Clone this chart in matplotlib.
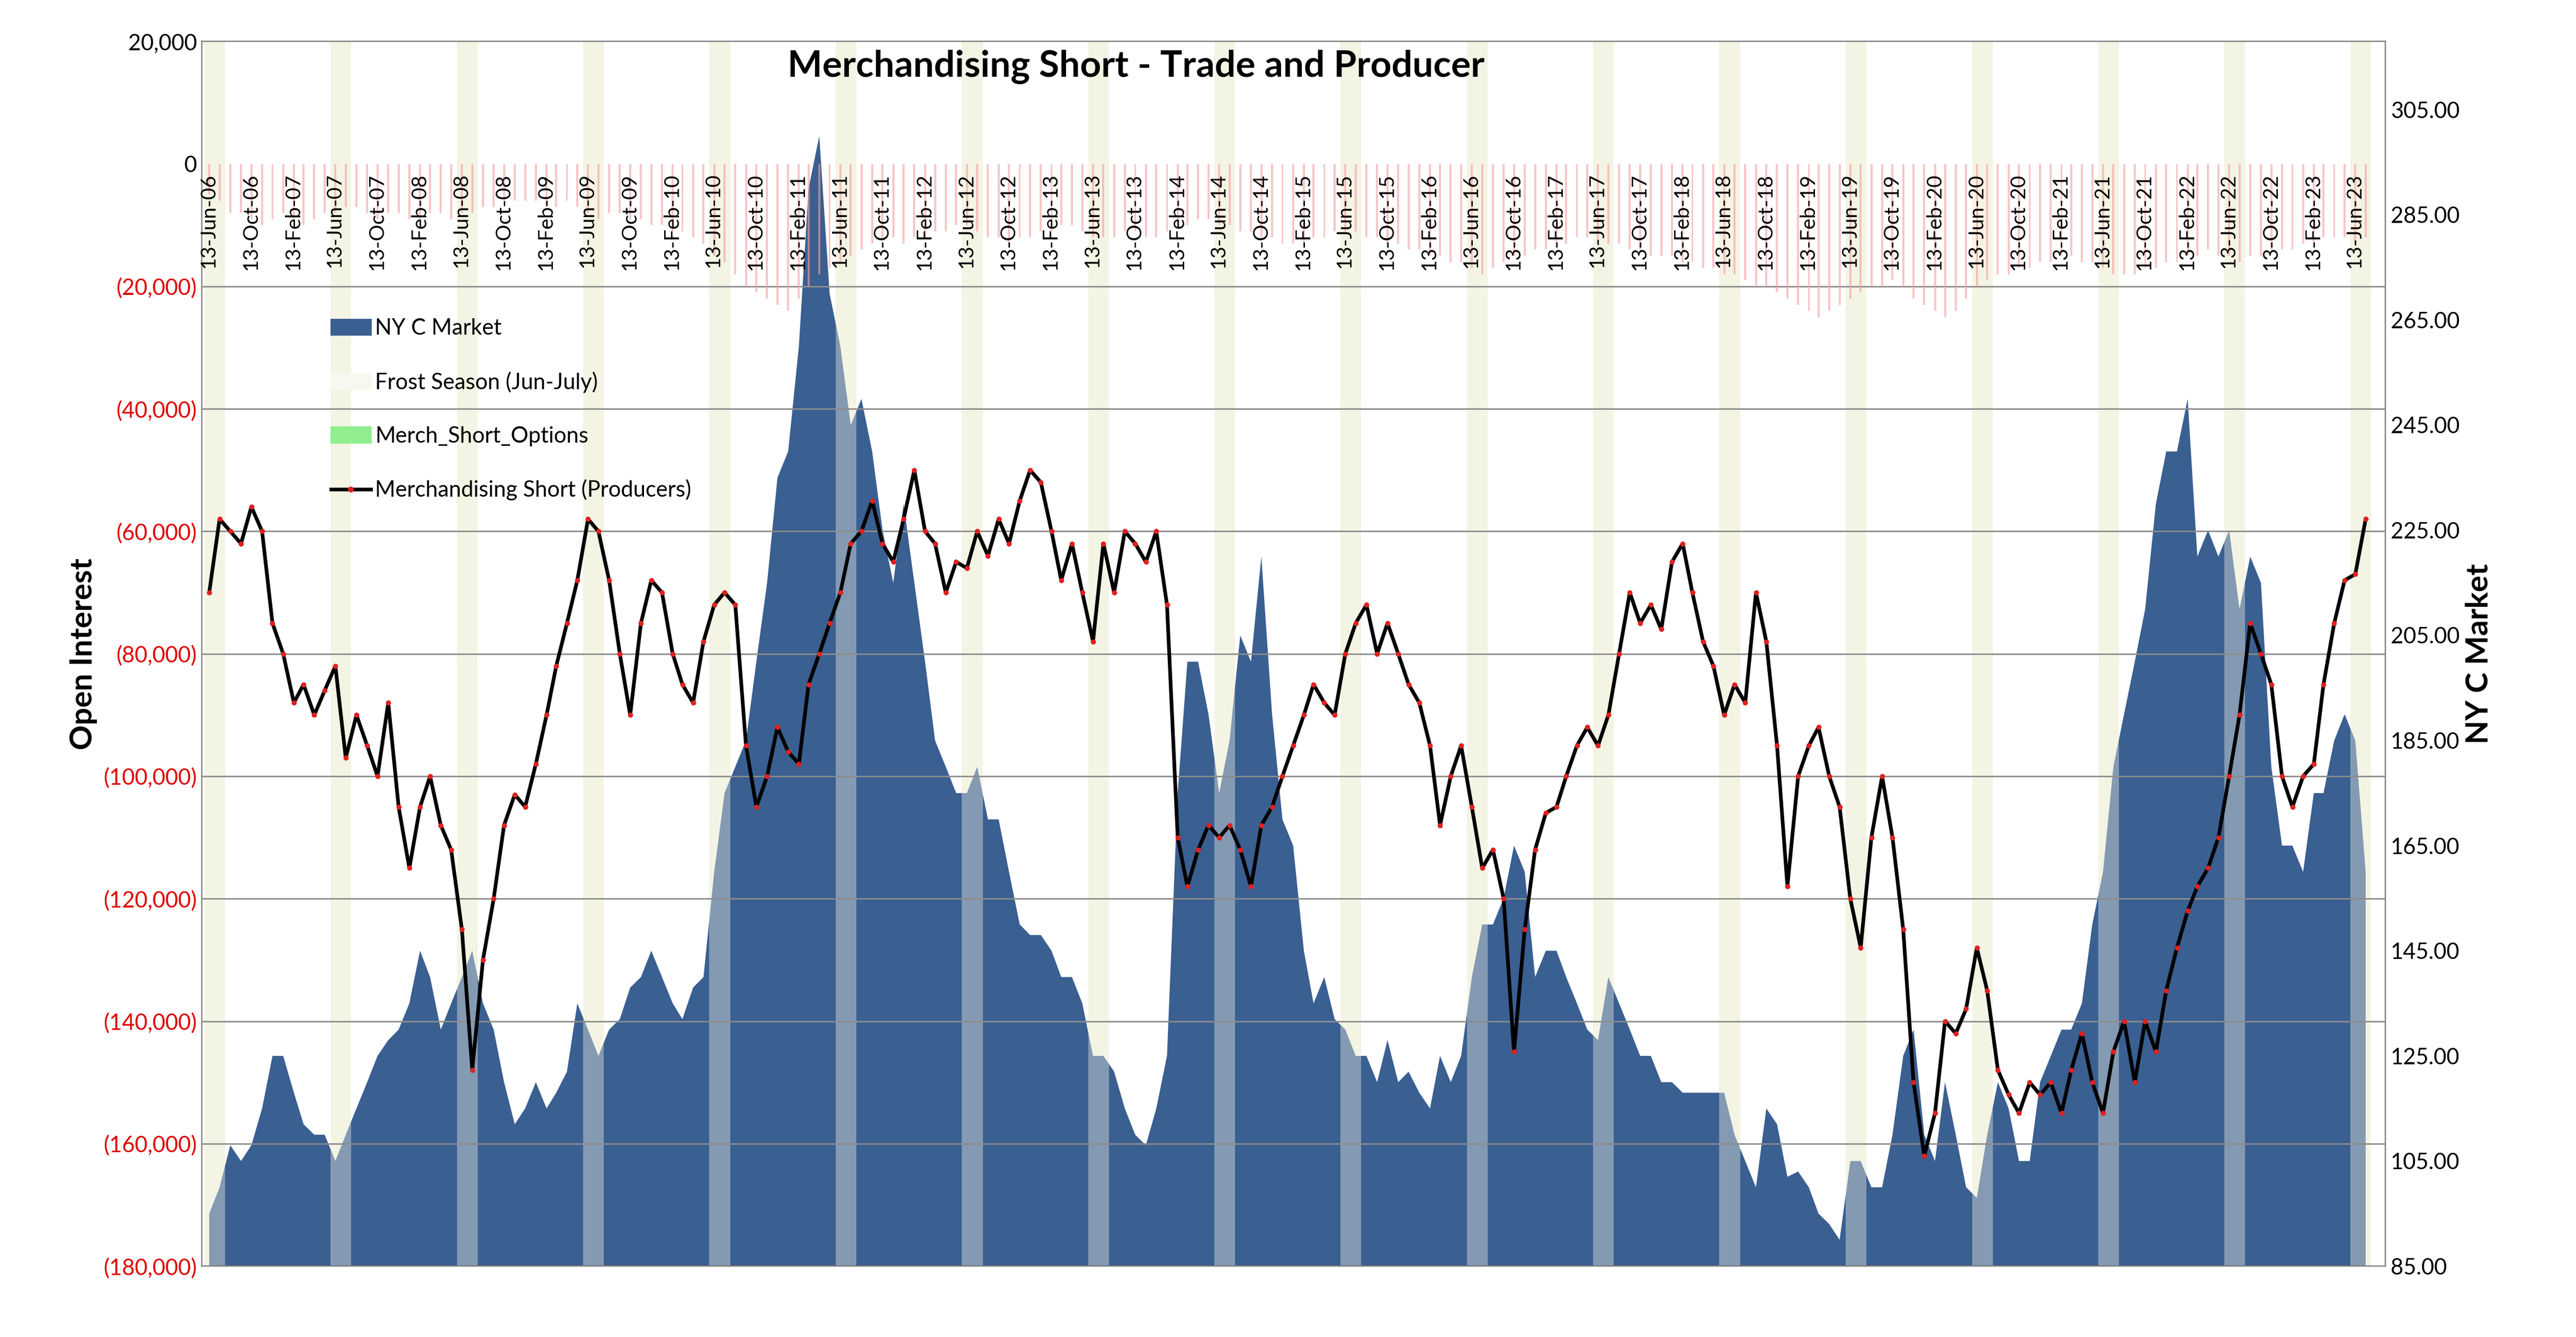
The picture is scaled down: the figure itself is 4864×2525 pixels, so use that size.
import numpy as np
import pandas as pd
import matplotlib
matplotlib.use('Agg')
import matplotlib.pyplot as plt
from matplotlib.patches import Patch
from matplotlib.lines import Line2D
from matplotlib.ticker import FixedLocator, FuncFormatter

plt.rcParams['font.family'] = ['Lato', 'DejaVu Sans']

merch_short = [  # thousands of contracts, monthly Jun-2006 .. Jul-2023
    -70, -58, -60, -62, -56, -60, -75,
    -80, -88, -85, -90, -86, -82, -97, -90, -95, -100, -88, -105,
    -115, -105, -100, -108, -112, -125, -148, -130, -120, -108, -103, -105,
    -98, -90, -82, -75, -68, -58, -60, -68, -80, -90, -75, -68,
    -70, -80, -85, -88, -78, -72, -70, -72, -95, -105, -100, -92,
    -96, -98, -85, -80, -75, -70, -62, -60, -55, -62, -65, -58,
    -50, -60, -62, -70, -65, -66, -60, -64, -58, -62, -55, -50,
    -52, -60, -68, -62, -70, -78, -62, -70, -60, -62, -65, -60,
    -72, -110, -118, -112, -108, -110, -108, -112, -118, -108, -105, -100,
    -95, -90, -85, -88, -90, -80, -75, -72, -80, -75, -80, -85,
    -88, -95, -108, -100, -95, -105, -115, -112, -120, -145, -125, -112,
    -106, -105, -100, -95, -92, -95, -90, -80, -70, -75, -72, -76,
    -65, -62, -70, -78, -82, -90, -85, -88, -70, -78, -95, -118,
    -100, -95, -92, -100, -105, -120, -128, -110, -100, -110, -125, -150,
    -162, -155, -140, -142, -138, -128, -135, -148, -152, -155, -150, -152,
    -150, -155, -148, -142, -150, -155, -145, -140, -150, -140, -145, -135,
    -128, -122, -118, -115, -110, -100, -90, -75, -80, -85, -100, -105,
    -100, -98, -85, -75, -68, -67, -58,
]

nyc_price = [  # cents/lb
    95, 100, 108, 105, 108, 115, 125,
    125, 118, 112, 110, 110, 105, 110, 115, 120, 125, 128, 130,
    135, 145, 140, 130, 135, 140, 145, 135, 130, 120, 112, 115,
    120, 115, 118, 122, 135, 130, 125, 130, 132, 138, 140, 145,
    140, 135, 132, 138, 140, 160, 175, 180, 185, 200, 215, 235,
    240, 260, 290, 300, 270, 260, 245, 250, 240, 225, 215, 230,
    215, 200, 185, 180, 175, 175, 180, 170, 170, 160, 150, 148,
    148, 145, 140, 140, 135, 125, 125, 122, 115, 110, 108, 115,
    125, 175, 200, 200, 190, 175, 185, 205, 200, 220, 190, 170,
    165, 145, 135, 140, 132, 130, 125, 125, 120, 128, 120, 122,
    118, 115, 125, 120, 125, 140, 150, 150, 155, 165, 160, 140,
    145, 145, 140, 135, 130, 128, 140, 135, 130, 125, 125, 120,
    120, 118, 118, 118, 118, 118, 110, 105, 100, 115, 112, 102,
    103, 100, 95, 93, 90, 105, 105, 100, 100, 110, 125, 130,
    110, 105, 120, 110, 100, 98, 110, 120, 115, 105, 105, 120,
    125, 130, 130, 135, 150, 160, 180, 190, 200, 210, 230, 240,
    240, 250, 220, 225, 220, 225, 210, 220, 215, 180, 165, 165,
    160, 175, 175, 185, 190, 185, 160,
]

merch_options = [  # thousands, hanging from zero
    -5, -6, -8, -8, -9, -10, -9,
    -8, -9, -10, -9, -8, -8, -7, -7, -8, -9, -8, -8,
    -9, -9, -8, -8, -9, -8, -8, -7, -7, -6, -6, -6,
    -6, -7, -7, -6, -7, -8, -9, -8, -8, -9, -9, -10,
    -10, -11, -11, -12, -13, -15, -16, -18, -20, -21, -22, -23,
    -24, -22, -20, -18, -17, -16, -15, -14, -13, -12, -12, -13,
    -12, -12, -11, -11, -10, -10, -11, -12, -12, -13, -12, -12,
    -11, -11, -10, -10, -11, -12, -12, -12, -11, -11, -12, -12,
    -11, -10, -10, -9, -9, -10, -10, -11, -11, -12, -12, -13,
    -13, -13, -12, -12, -11, -11, -11, -12, -12, -13, -13, -14,
    -14, -15, -15, -16, -16, -17, -18, -17, -16, -15, -15, -14,
    -14, -13, -13, -12, -12, -13, -13, -13, -14, -14, -15, -15,
    -15, -16, -16, -17, -17, -18, -18, -19, -20, -20, -21, -22,
    -23, -24, -25, -24, -23, -22, -21, -20, -20, -19, -20, -22,
    -23, -24, -25, -24, -22, -20, -19, -18, -18, -17, -17, -16,
    -16, -15, -15, -16, -16, -17, -18, -18, -18, -17, -17, -16,
    -16, -15, -15, -14, -15, -15, -16, -15, -15, -14, -14, -14,
    -13, -13, -12, -12, -12, -13, -12,
]

months = pd.date_range('2006-06-01', periods=len(merch_short), freq='MS') + pd.Timedelta(days=14)
tick_dates = pd.date_range('2006-06-01', '2023-06-01', freq='4MS') + pd.Timedelta(days=12)
frost_years = range(2006, 2024)

fig = plt.figure(figsize=(24.32, 12.625), dpi=200)
ax = fig.add_axes([0.0784, 0.053, 0.8476, 0.916])
ax2 = ax.twinx()
ax.set_zorder(ax2.get_zorder() + 1)
ax.patch.set_visible(False)

# right axis: price area, frost bands
for y in frost_years:
    ax2.axvspan(pd.Timestamp(f'{y}-06-01'), pd.Timestamp(f'{y}-07-31'), color='#F4F4E4', zorder=0, lw=0)
ax2.fill_between(months, nyc_price, 0, color='#3A5F91', lw=0, zorder=1)
for y in frost_years:
    ax2.axvspan(pd.Timestamp(f'{y}-06-01'), pd.Timestamp(f'{y}-07-31'), color='#F4F4E4', alpha=0.4, zorder=2, lw=0)
ax2.set_ylim(85, 318)
ax2.yaxis.set_major_locator(FixedLocator(np.arange(85, 306, 20)))
ax2.yaxis.set_major_formatter(FuncFormatter(lambda v, p: f'{v:.2f}'))
ax2.set_ylabel('NY C Market', fontsize=21, fontweight='bold')
ax2.tick_params(axis='y', labelsize=15, length=0)

# left axis
scale = 1000
ax.bar(months, np.array(merch_options) * scale, width=6, color='#F4A0A0', alpha=0.6, zorder=2)
ax.plot(months, np.array(merch_short) * scale, color='black', lw=2.5, zorder=4)
ax.plot(months, np.array(merch_short) * scale, ls='none', marker='o', ms=2.5, color='#E02020', zorder=5)
ax.set_ylim(-180000, 20000)
ax.set_xlim(pd.Timestamp('2006-05-25'), pd.Timestamp('2023-09-10'))
lticks = np.arange(-180000, 20001, 20000)
ax.set_yticks(lticks)
for t in lticks[1:-2]:
    ax.axhline(t, color='#8C8C8C', lw=1, zorder=1)
def lfmt(v, p):
    return f'({abs(v):,.0f})' if v < 0 else f'{v:,.0f}'
ax.yaxis.set_major_formatter(FuncFormatter(lfmt))
ax.tick_params(axis='y', labelsize=15, length=0)
for lab, v in zip(ax.get_yticklabels(), lticks):
    lab.set_color('#E00000' if v < 0 else 'black')
ax.set_ylabel('Open Interest', fontsize=21, fontweight='bold')
ax.set_xticks([])
for d in tick_dates:
    ax.text(d, -1500, d.strftime('13-%b-%y'), rotation=90, ha='center', va='top', fontsize=14, zorder=6)

fig.text(0.441, 0.95, 'Merchandising Short - Trade and Producer', ha='center', va='center',
         fontsize=25, fontweight='bold')

handles = [Patch(color='#3A5F91'), Patch(color='#F8F8F0'), Patch(color='#90EE90'),
           Line2D([], [], color='black', lw=2.5, marker='o', ms=3, mfc='#E02020', mec='#E02020')]
labels = ['NY C Market', 'Frost Season (Jun-July)', 'Merch_Short_Options', 'Merchandising Short (Producers)']
ax.legend(handles, labels, loc='upper left', bbox_to_anchor=(0.05, 0.79), frameon=False,
          fontsize=15, labelspacing=1.5, handlelength=1.8, handletextpad=0.2)

for s in ax.spines.values():
    s.set_color('#888888')
fig.savefig('out.png', dpi=200)
